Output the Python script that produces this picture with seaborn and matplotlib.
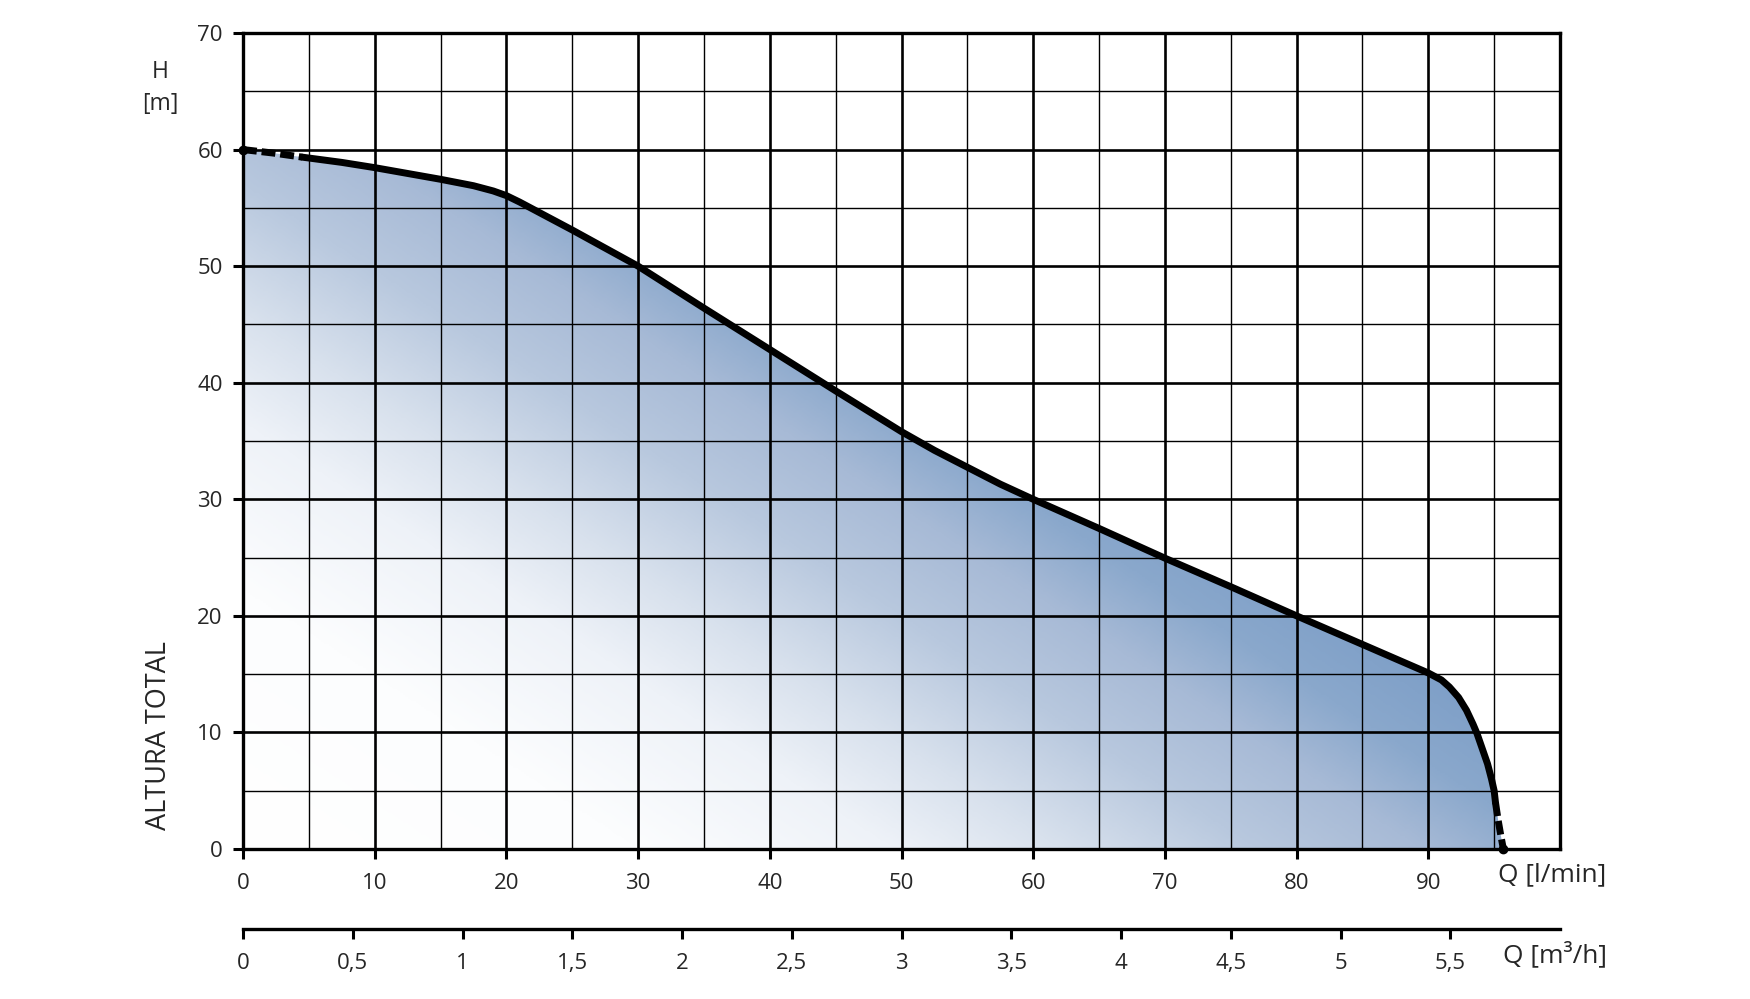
import numpy as np
import matplotlib.pyplot as plt
import seaborn as sns
from matplotlib.colors import LinearSegmentedColormap
from matplotlib.patches import Polygon

# pump curve H(Q)
q_dash_in = [0.0, 2.3, 4.5]
h_dash_in = [60.0, 59.7, 59.35]
q_solid = [4.5, 7.5, 10, 12.5, 15, 17.5, 19, 20, 21, 22.5, 25, 27.5, 30, 35, 40, 45, 50,
           52.5, 55, 57.5, 60, 65, 70, 75, 80, 85, 90, 91.0, 91.6, 92.3, 92.9, 93.4, 93.7,
           94.1, 94.5, 94.8, 95.0, 95.1]
h_solid = [59.35, 58.9, 58.45, 57.95, 57.45, 56.9, 56.45, 56.05, 55.5, 54.6, 53.1, 51.55,
           50.0, 46.4, 42.85, 39.3, 35.8, 34.2, 32.75, 31.3, 30.0, 27.5, 24.95, 22.5, 20.0,
           17.55, 15.1, 14.5, 13.9, 13.0, 11.9, 10.7, 9.9, 8.6, 7.3, 6.0, 5.0, 4.0]
q_dash_out = [95.1, 95.3, 95.5, 95.7]
h_dash_out = [4.0, 2.5, 1.2, 0.0]

x_ticks = [0, 10, 20, 30, 40, 50, 60, 70, 80, 90]
x_minor = [5, 15, 25, 35, 45, 55, 65, 75, 85, 95, 100]
y_ticks = [0, 10, 20, 30, 40, 50, 60, 70]
y_minor = [5, 15, 25, 35, 45, 55, 65]
m3h_ticks = [0, 0.5, 1, 1.5, 2, 2.5, 3, 3.5, 4, 4.5, 5, 5.5]
m3h_labels = ["0", "0,5", "1", "1,5", "2", "2,5", "3", "3,5", "4", "4,5", "5", "5,5"]

sns.set_style("white")
plt.rcParams['font.family'] = ['Open Sans', 'DejaVu Sans']

W, H = 1750, 999
fig = plt.figure(figsize=(W / 100, H / 100), dpi=100)
x0, x1, y0, y1 = 243, 1560, 849, 33
ax = fig.add_axes([x0 / W, 1 - y0 / H, (x1 - x0) / W, (y0 - y1) / H])
ax.set_xlim(0, 100)
ax.set_ylim(0, 70)

# gradient fill under the curve
q_all = q_dash_in + q_solid[1:] + q_dash_out[1:]
h_all = h_dash_in + h_solid[1:] + h_dash_out[1:]
verts = [(0, 0)] + list(zip(q_all, h_all)) + [(q_all[-1], 0)]
patch = Polygon(verts, closed=True, fc='none', ec='none')
ax.add_patch(patch)
gx, gy = np.meshgrid(np.linspace(0, 100, 500), np.linspace(0, 70, 400))
t = gx + 1.35 * gy
cmap = LinearSegmentedColormap.from_list("fade", [
    (0.0, "#ffffff"), (0.26, "#fcfdfe"), (0.43, "#eef2f8"), (0.54, "#d8e1ed"),
    (0.67, "#b8c8de"), (0.78, "#a7bad6"), (0.87, "#8aa8cc"), (1.0, "#7a9cc6")])
im = ax.imshow(t, extent=[0, 100, 0, 70], origin='lower', cmap=cmap, vmin=0, vmax=115,
               aspect='auto', zorder=1, interpolation='bilinear')
im.set_clip_path(patch)

# grid
ax.set_xticks(x_ticks)
ax.set_xticks(x_minor, minor=True)
ax.set_yticks(y_ticks)
ax.set_yticks(y_minor, minor=True)
ax.set_axisbelow(False)
ax.grid(which='major', color='black', lw=1.9)
ax.grid(which='minor', color='black', lw=1.0)
for s in ax.spines.values():
    s.set_visible(True)
    s.set_color('black')
    s.set_linewidth(2.4)
    s.set_zorder(5)
ax.tick_params(which='major', direction='out', length=7.5, width=2.2, color='black',
               labelsize=16, bottom=True, left=True)
ax.tick_params(axis='x', which='major', pad=10)
ax.tick_params(axis='y', which='major', pad=7)
ax.tick_params(which='minor', length=0)
ax.set_xlabel("")
ax.set_ylabel("")

# curve
kw = dict(color='black', lw=5.0, ax=ax, sort=False, estimator=None, legend=False)
sns.lineplot(x=q_solid, y=h_solid, zorder=6, **kw).lines[-1].set_solid_capstyle('round')
l1 = sns.lineplot(x=q_dash_in, y=h_dash_in, zorder=6, **kw).lines[-1]
l2 = sns.lineplot(x=q_dash_out, y=h_dash_out, zorder=6, **kw).lines[-1]
for ln in (l1, l2):
    ln.set_dashes([2.0, 0.7])
    ln.set_dash_capstyle('butt')
ax.plot(q_dash_in[0], h_dash_in[0], 'o', color='black', ms=6, zorder=7, clip_on=False)
ax.plot(q_dash_out[-1], h_dash_out[-1], 'o', color='black', ms=6, zorder=7, clip_on=False)

# second axis in m3/h
ax2 = fig.add_axes([x0 / W, 1 - 929 / H, (x1 - x0) / W, 1e-4])
ax2.set_xlim(0, 6)
ax2.set_ylim(0, 1)
ax2.patch.set_alpha(0)
for side in ['top', 'left', 'right']:
    ax2.spines[side].set_visible(False)
ax2.spines['bottom'].set_linewidth(2.4)
ax2.spines['bottom'].set_color('black')
ax2.set_yticks([])
ax2.set_xticks(m3h_ticks)
ax2.set_xticklabels(m3h_labels)
ax2.tick_params(axis='x', direction='out', length=7.5, width=2.2, color='black',
                labelsize=16, pad=10, bottom=True)

# labels
fig.text(160 / W, 1 - 72 / H, "H", fontsize=16.5, ha='center', va='center')
fig.text(160 / W, 1 - 104 / H, "[m]", fontsize=16.5, ha='center', va='center')
fig.text(159 / W, 1 - 736 / H, "ALTURA TOTAL", fontsize=19.5, rotation=90, ha='center', va='center')
fig.text(1498 / W, 1 - 875 / H, "Q [l/min]", fontsize=19, ha='left', va='center')
fig.text(1503 / W, 1 - 955 / H, "Q [m³/h]", fontsize=19, ha='left', va='center')

fig.savefig("out.png", dpi=100)
